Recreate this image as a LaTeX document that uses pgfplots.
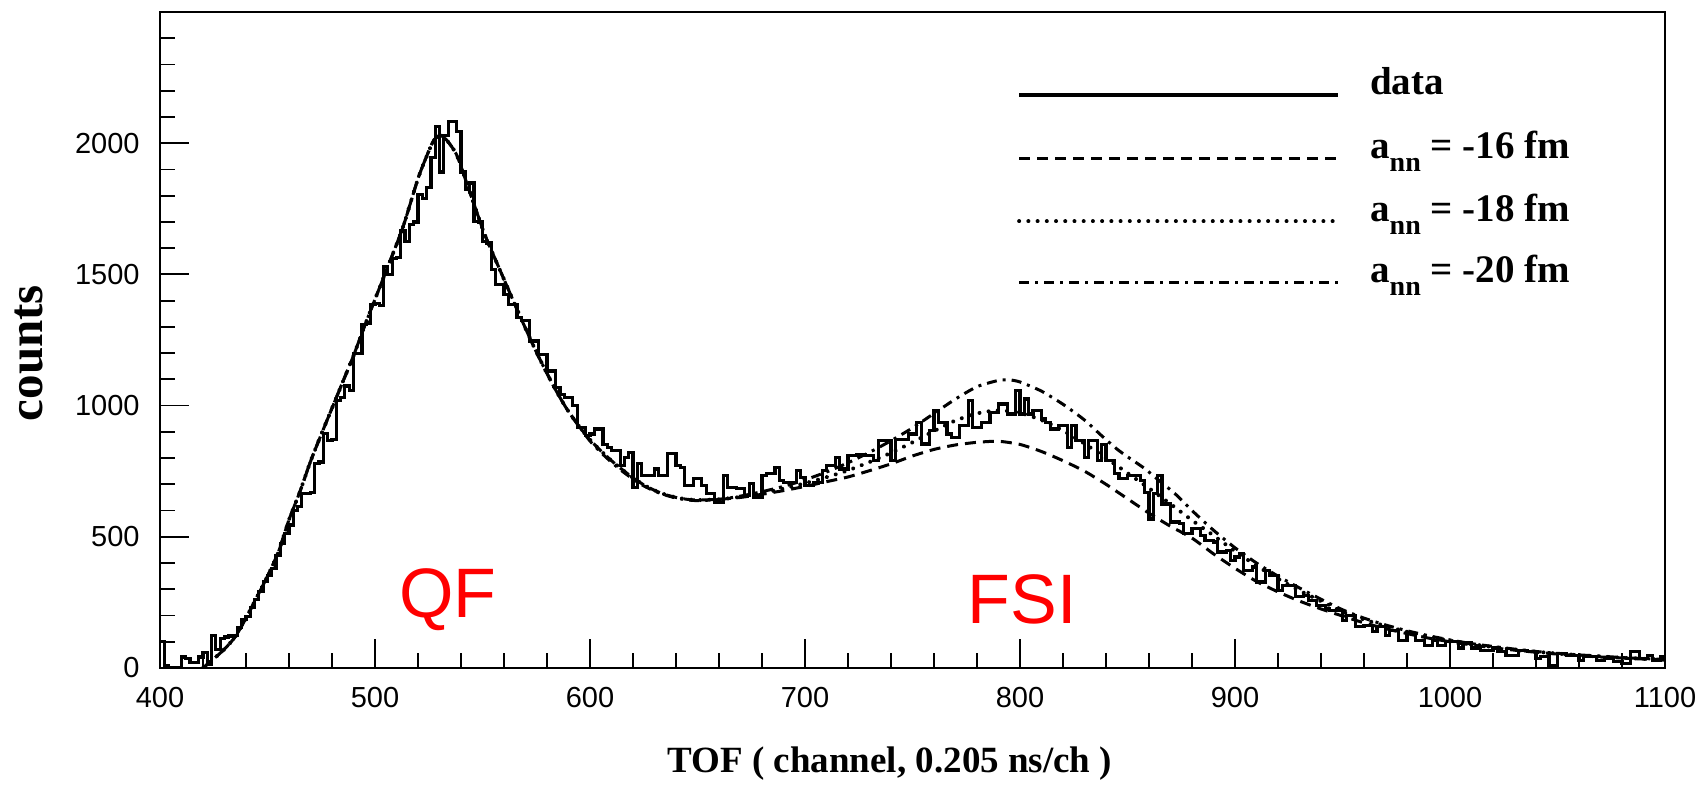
\documentclass[border=0pt]{standalone}
\usepackage{fontspec}
\setmainfont{Liberation Serif}
\setsansfont{Liberation Sans}
\usepackage{pgfplots}
\pgfplotsset{compat=1.18}
\newcommand{\ann}{a\raisebox{-6.5pt}{\fontsize{14}{14}\selectfont nn}}
\begin{document}
\begin{tikzpicture}
\begin{axis}[
  scale only axis, width=752.5pt, height=328pt,
  xmin=400, xmax=1100, ymin=0, ymax=2500,
  xtick={400,500,...,1100}, ytick={0,500,...,2000},
  minor xtick={420,440,...,1080}, minor ytick={100,200,...,2400},
  xtick pos=bottom, ytick pos=left,
  tick align=inside,
  major tick length=14.5pt, minor tick length=7.3pt,
  every tick/.style={line width=0.9pt, black},
  axis line style={line width=1.1pt},
  tick label style={font=\sffamily\fontsize{14.5}{14.5}\selectfont, /pgf/number format/assume math mode=true, inner sep=0pt},
  /pgf/number format/1000 sep={},
  yticklabel style={xshift=-10pt},
  xticklabel style={yshift=-9.3pt},
  xlabel={TOF ( channel, 0.205 ns/ch )},
  ylabel={counts},
  xlabel style={font=\bfseries\fontsize{18.5}{20}\selectfont, at={(axis description cs:0.485,-0.145)}, anchor=center},
  ylabel style={font=\bfseries\fontsize{24.5}{26}\selectfont, at={(axis description cs:-0.087,0.48)}, anchor=center},
  clip=true,
]
% a_nn = -16 fm
\addplot[black, line width=1.5pt, dash pattern=on 5.5pt off 3.5pt, smooth, tension=0.4] coordinates {
(420,0)(425,35)(430,72)(435,119)(440,190)(446,285)(450,350)(455,440)(460,565)(465,670)(470,787)(475,890)(480,990)(485,1090)(490,1190)(495,1300)(500,1405)(506,1530)(513,1680)(520,1865)(524,1950)(527,2006)(530,2030)(533,2015)(538,1955)(544,1816)(551,1653)(559,1500)(567,1349)(575,1205)(583,1075)(589,990)(595,920)(600,870)(605,828)(610,790)(615,756)(620,725)(625,698)(630,677)(635,661)(640,650)(645,643)(650,640)
(660,643)(670,650)(680,662)(690,676)(700,692)(710,710)(720,728)(730,752)(740,778)(750,808)(760,833)(770,850)(780,860)(790,864)(800,852)(810,825)(820,790)(830,750)(840,700)(850,645)(860,590)(870,540)(880,495)(890,435)(900,380)(910,330)(920,290)(930,255)(940,225)(950,198)(960,172)(970,150)(980,131)(990,114)(1000,100)(1010,88)(1020,77)(1030,68)(1040,60)(1050,53)(1060,47)(1070,42)(1080,38)(1090,34)(1100,31)};
% a_nn = -18 fm
\addplot[black, line width=2pt, dash pattern=on 0.01pt off 4.6pt, line cap=round, smooth, tension=0.4] coordinates {
(420,0)(425,35)(430,72)(435,119)(440,190)(446,285)(450,350)(455,440)(460,565)(465,670)(470,787)(475,890)(480,990)(485,1090)(490,1190)(495,1300)(500,1405)(506,1530)(513,1680)(520,1865)(524,1950)(527,2006)(530,2030)(533,2015)(538,1955)(544,1816)(551,1653)(559,1500)(567,1349)(575,1205)(583,1075)(589,990)(595,920)(600,870)(605,828)(610,790)(615,756)(620,725)(625,698)(630,677)(635,661)(640,650)(645,643)(650,640)
(660,643)(670,652)(680,666)(690,684)(700,704)(710,727)(720,753)(730,785)(740,820)(750,860)(760,903)(770,943)(780,970)(790,982)(800,972)(810,945)(820,905)(830,855)(840,800)(850,743)(860,685)(870,625)(880,563)(890,505)(900,445)(910,390)(920,340)(930,295)(940,255)(950,215)(960,185)(970,160)(980,138)(990,120)(1000,104)(1010,91)(1020,80)(1030,70)(1040,62)(1050,55)(1060,49)(1070,44)(1080,39)(1090,35)(1100,32)};
% a_nn = -20 fm
\addplot[black, line width=1.5pt, dash pattern=on 5pt off 3pt on 1.5pt off 3pt, smooth, tension=0.4] coordinates {
(420,0)(425,35)(430,72)(435,119)(440,190)(446,285)(450,350)(455,440)(460,565)(465,670)(470,787)(475,890)(480,990)(485,1090)(490,1190)(495,1300)(500,1405)(506,1530)(513,1680)(520,1865)(524,1950)(527,2006)(530,2030)(533,2015)(538,1955)(544,1816)(551,1653)(559,1500)(567,1349)(575,1205)(583,1075)(589,990)(595,920)(600,865)(605,822)(610,784)(615,750)(620,720)(625,694)(630,674)(635,659)(640,648)(645,641)(650,638)
(660,642)(670,655)(680,672)(690,692)(700,717)(710,747)(720,782)(730,822)(740,866)(750,915)(760,970)(770,1025)(780,1072)(790,1096)(795,1098)(800,1090)(810,1055)(820,1005)(830,945)(838,885)(845,835)(850,805)(858,760)(865,712)(872,665)(880,600)(890,525)(900,458)(910,400)(920,350)(930,305)(940,262)(950,222)(960,190)(970,164)(980,142)(990,123)(1000,107)(1010,93)(1020,82)(1030,72)(1040,63)(1050,56)(1060,50)(1070,45)(1080,40)(1090,36)(1100,33)};
% data histogram (2-channel bins)
\addplot[black, line width=1.6pt, const plot, line join=miter] coordinates {
(400,100)(402,10)(404,0)(406,0)(408,0)(410,42)(412,35)(414,22)(416,22)(418,42)
(420,60)(422,15)(424,125)(426,70)(428,112)(430,118)(432,122)(434,125)(436,155)(438,185)
(440,195)(442,232)(444,262)(446,290)(448,330)(450,352)(452,380)(454,430)(456,475)(458,512)
(460,545)(462,600)(464,615)(466,665)(468,665)(470,670)(472,780)(474,785)(476,893)(478,866)
(480,870)(482,1018)(484,1030)(486,1075)(488,1056)(490,1200)(492,1200)(494,1310)(496,1315)(498,1385)
(500,1390)(502,1380)(504,1530)(506,1500)(508,1560)(510,1565)(512,1665)(514,1626)(516,1690)(518,1700)
(520,1805)(522,1790)(524,1830)(526,1945)(528,2063)(530,1890)(532,2030)(534,2082)(536,2082)(538,2045)
(540,1890)(542,1825)(544,1848)(546,1702)(548,1700)(550,1626)(552,1620)(554,1520)(556,1462)(558,1462)
(560,1424)(562,1386)(564,1386)(566,1335)(568,1323)(570,1323)(572,1246)(574,1246)(576,1196)(578,1196)
(580,1132)(582,1132)(584,1069)(586,1043)(588,1031)(590,1031)(592,1000)(594,917)(596,917)(598,885)
(600,892)(602,911)(604,911)(606,853)(608,841)(610,828)(612,828)(614,771)(616,803)(618,822)
(620,689)(622,778)(624,733)(626,733)(628,733)(630,758)(632,733)(634,733)(636,816)(638,816)
(640,771)(642,765)(644,695)(646,695)(648,721)(650,721)(652,695)(654,664)(656,664)(658,632)
(660,632)(662,733)(664,689)(666,689)(668,683)(670,683)(672,657)(674,702)(676,651)(678,651)
(680,733)(682,740)(684,740)(686,765)(688,714)(690,708)(692,708)(694,708)(696,752)(698,727)
(700,695)(702,695)(704,708)(706,708)(708,752)(710,771)(712,771)(714,803)(716,758)(718,758)
(720,810)(722,810)(724,815)(726,815)(728,810)(730,810)(732,790)(734,866)(736,866)(738,866)
(740,790)(742,872)(744,872)(746,872)(748,892)(750,892)(752,936)(754,854)(756,854)(758,904)
(760,980)(762,936)(764,936)(766,892)(768,879)(770,879)(772,923)(774,923)(776,1018)(778,917)
(780,917)(782,936)(784,936)(786,974)(788,974)(790,1006)(792,1006)(794,968)(796,968)(798,1056)
(800,968)(802,1025)(804,968)(806,980)(808,980)(810,949)(812,936)(814,911)(816,911)(818,923)
(820,923)(822,841)(824,923)(826,866)(828,866)(830,803)(832,866)(834,866)(836,790)(838,853)
(840,790)(842,790)(844,740)(846,721)(848,721)(850,733)(852,733)(854,733)(856,714)(858,670)
(860,568)(862,664)(864,733)(866,625)(868,625)(870,556)(872,556)(874,550)(876,512)(878,512)
(880,531)(882,531)(884,505)(886,486)(888,486)(890,480)(892,442)(894,442)(896,448)(898,410)
(900,423)(902,435)(904,372)(906,372)(908,385)(910,328)(912,328)(914,372)(916,353)(918,353)
(920,296)(922,315)(924,315)(926,315)(928,271)(930,271)(932,277)(934,258)(936,258)(938,239)
(940,239)(942,226)(944,220)(946,220)(948,220)(950,182)(952,201)(954,201)(956,157)(958,157)
(960,163)(962,163)(964,138)(966,157)(968,157)(970,125)(972,144)(974,144)(976,106)(978,106)
(980,131)(982,131)(984,106)(986,106)(988,87)(990,87)(992,106)(994,87)(996,87)(998,100)
(1000,100)(1002,100)(1004,76)(1006,95)(1008,95)(1010,76)(1012,76)(1014,68)(1016,68)(1018,68)
(1020,76)(1022,62)(1024,62)(1026,49)(1028,49)(1030,49)(1032,68)(1034,68)(1036,62)(1038,62)
(1040,36)(1042,43)(1044,43)(1046,10)(1048,10)(1050,55)(1052,55)(1054,49)(1056,49)(1058,49)
(1060,30)(1062,43)(1064,43)(1066,43)(1068,30)(1070,30)(1072,36)(1074,36)(1076,24)(1078,24)
(1080,17)(1082,17)(1084,62)(1086,62)(1088,36)(1090,36)(1092,49)(1094,30)(1096,30)(1098,43)
(1100,43)};
% legend
\draw[black, line width=1.7pt] (axis cs:799.6,2184) -- (axis cs:948.1,2184);
\draw[black, line width=1.5pt, dash pattern=on 5.5pt off 3.5pt] (axis cs:799.6,1942) -- (axis cs:948.1,1942);
\draw[black, line width=2pt, dash pattern=on 0.01pt off 4.6pt, line cap=round] (axis cs:799.6,1702) -- (axis cs:948.1,1702);
\draw[black, line width=1.5pt, dash pattern=on 5pt off 3pt on 1.5pt off 3pt] (axis cs:799.6,1468) -- (axis cs:948.1,1468);
\node[anchor=base west, inner sep=0pt, font=\bfseries\fontsize{19.5}{20}\selectfont] at (axis cs:962.7,2184) {data};
\node[anchor=base west, inner sep=0pt, font=\bfseries\fontsize{19.5}{20}\selectfont] at (axis cs:962.7,1942) {\ann{} = -16 fm};
\node[anchor=base west, inner sep=0pt, font=\bfseries\fontsize{19.5}{20}\selectfont] at (axis cs:962.7,1702) {\ann{} = -18 fm};
\node[anchor=base west, inner sep=0pt, font=\bfseries\fontsize{19.5}{20}\selectfont] at (axis cs:962.7,1468) {\ann{} = -20 fm};
% region labels
\node[text=red, font=\sffamily\fontsize{35}{35}\selectfont] at (axis cs:534,262) {QF};
\node[text=red, font=\sffamily\fontsize{35}{35}\selectfont] at (axis cs:801,262) {FSI};
\coordinate (ll) at (rel axis cs:0,0);
\coordinate (ur) at (rel axis cs:1,1);
\end{axis}
\pgfresetboundingbox
\path ([shift={(-80pt,-58.5pt)}]ll) rectangle ([shift={(21.5pt,6pt)}]ur);
\end{tikzpicture}
\end{document}
